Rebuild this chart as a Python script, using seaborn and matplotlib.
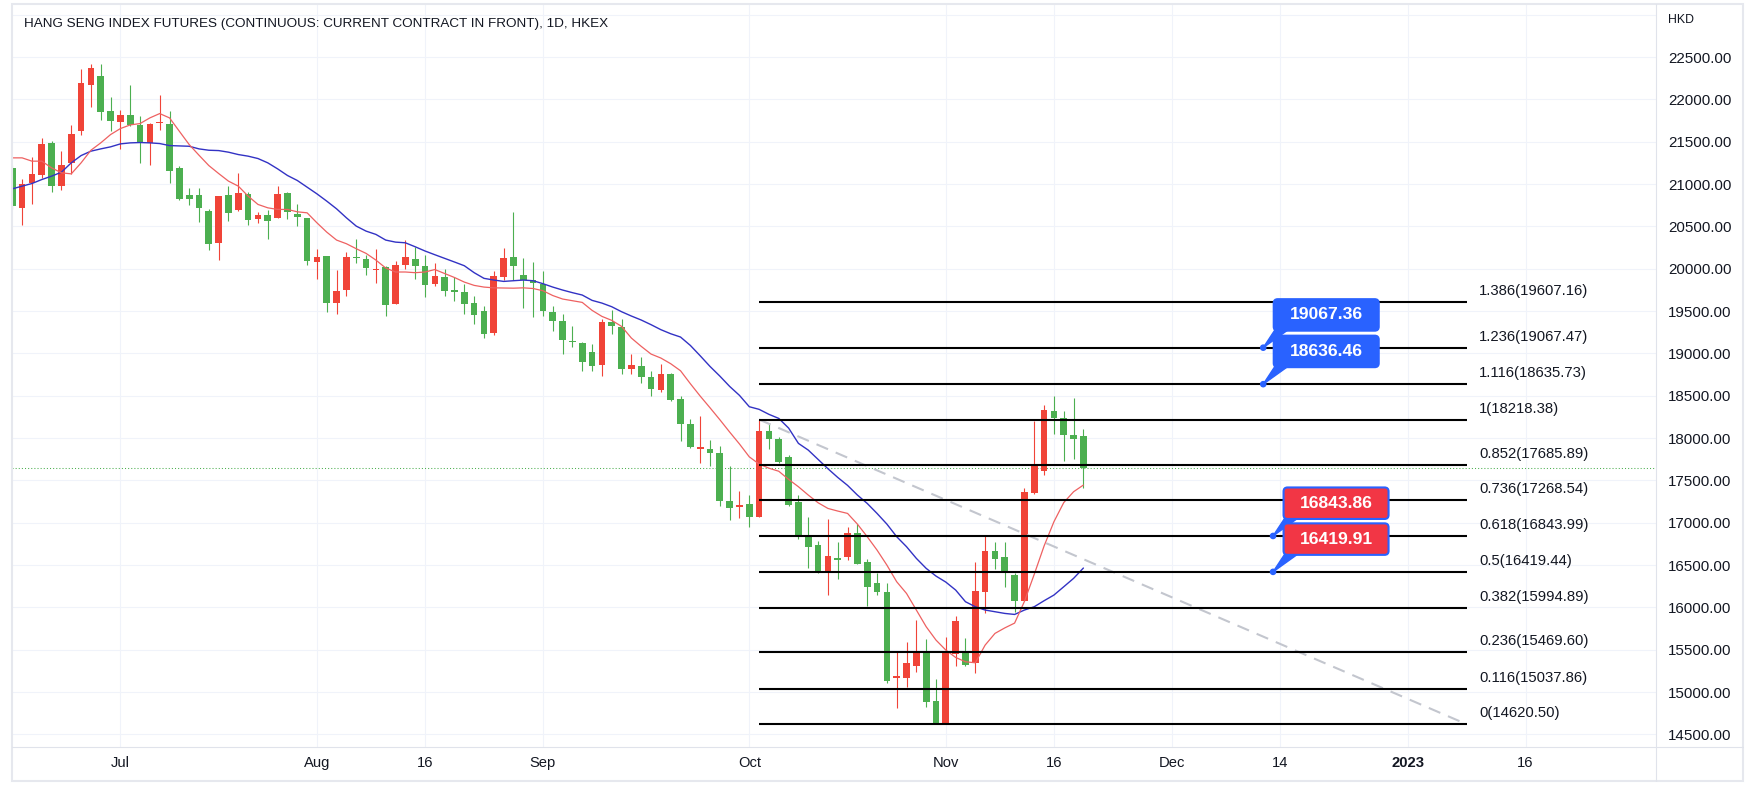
import matplotlib
matplotlib.use("Agg")
import matplotlib.pyplot as plt
from matplotlib.patches import FancyBboxPatch, Polygon, Circle, Rectangle
from matplotlib.lines import Line2D
from matplotlib.transforms import IdentityTransform
import numpy as np
import pandas as pd
import seaborn as sns

# Hang Seng futures, daily bars 16 Jun 2022 - 21 Nov 2022
opens = [21191, 20715, 21014, 21101, 21486, 20975, 21250, 21623, 22166, 22280,
         21867, 21730, 21816, 21698, 21486, 21722, 21714, 21187, 20873, 20865,
         20684, 20307, 20865, 20692, 20884, 20590, 20629, 20597, 20896, 20641,
         20594, 20078, 20149, 19591, 19748, 20141, 20118, 19984, 20023, 19583,
         20039, 20118, 20035, 19823, 19898, 19752, 19728, 19598, 19504, 19240,
         19902, 20142, 19925, 19870, 19823, 19492, 19386, 19150, 19122, 19012,
         18858, 19366, 19315, 18815, 18854, 18720, 18563, 18760, 18461, 18169,
         17870, 17870, 17823, 17252, 17189, 17221, 17071, 18087, 17988, 17780,
         17248, 16835, 16736, 16421, 16579, 16590, 16874, 16539, 16283, 16181,
         15169, 15162, 15311, 15476, 14894, 14640, 15449, 15476, 15339, 16185,
         16665, 16591, 16382, 16079, 17354, 17614, 18319, 18240, 18035, 18024]
highs = [21230, 21061, 21321, 21545, 21513, 21387, 21698, 22362, 22421, 22421,
         22032, 21879, 22174, 21800, 21720, 22056, 21867, 21211, 20955, 20955,
         20700, 20860, 20975, 21132, 20900, 20668, 20692, 20975, 20900, 20766,
         20600, 20228, 20155, 19984, 20200, 20354, 20157, 20228, 20030, 20090,
         20338, 20251, 20165, 20067, 19996, 19898, 19823, 19681, 19555, 19976,
         20248, 20673, 20126, 20079, 19976, 19563, 19465, 19327, 19130, 19114,
         19409, 19516, 19409, 18992, 18957, 18787, 18874, 18765, 18492, 18225,
         18260, 17980, 17902, 17673, 17370, 17327, 18218, 18173, 18016, 17799,
         17327, 17071, 16784, 17043, 16768, 16953, 16984, 16567, 16402, 16283,
         15476, 15594, 15850, 15622, 15154, 15646, 15898, 15634, 16539, 16854,
         16776, 16768, 16402, 17406, 18201, 18390, 18496, 18319, 18469, 18102]
lows = [20700, 20515, 20770, 21073, 20904, 20935, 21124, 21584, 21910, 21753,
        21623, 21415, 21682, 21250, 21222, 21635, 21014, 20810, 20755, 20550,
        20220, 20098, 20562, 20680, 20519, 20535, 20354, 20593, 20590, 20503,
        20039, 19874, 19489, 19469, 19678, 20071, 19929, 19835, 19442, 19580,
        19992, 19874, 19661, 19791, 19673, 19614, 19461, 19350, 19177, 19213,
        19870, 19870, 19535, 19429, 19437, 19260, 18992, 19075, 18787, 18787,
        18728, 19232, 18760, 18756, 18650, 18492, 18539, 18433, 17961, 17882,
        17705, 17665, 17193, 17035, 17055, 16945, 17071, 17870, 17701, 17197,
        16803, 16461, 16402, 16146, 16331, 16559, 16508, 16020, 16146, 15102,
        14807, 15063, 15232, 14827, 14620, 14621, 15307, 15307, 15228, 15937,
        16453, 16244, 15949, 16075, 17339, 17563, 18047, 17732, 17748, 17406]
closes = [20739, 21002, 21124, 21478, 20975, 21226, 21596, 22197, 22370, 21847,
          21741, 21816, 21698, 21498, 21714, 21737, 21148, 20829, 20818, 20715,
          20291, 20853, 20660, 20896, 20574, 20629, 20558, 20884, 20668, 20613,
          20090, 20141, 19591, 19733, 20141, 20126, 20008, 20000, 19567, 20039,
          20134, 20031, 19811, 19917, 19732, 19720, 19587, 19457, 19232, 19917,
          20130, 20028, 19870, 19831, 19496, 19386, 19154, 19130, 18898, 18846,
          19370, 19319, 18815, 18862, 18717, 18579, 18760, 18445, 18169, 17894,
          17890, 17823, 17252, 17173, 17209, 17071, 18087, 17988, 17720, 17209,
          16843, 16717, 16402, 16606, 16559, 16874, 16508, 16244, 16185, 15134,
          15189, 15339, 15476, 14886, 14630, 15457, 15843, 15319, 16193, 16665,
          16571, 16409, 16079, 17358, 17693, 18331, 18232, 18035, 17988, 17650]

# moving averages as drawn (red = 10 day, blue = 20 day)
ma_fast = [21309, 21309, 21270, 21270, 21191, 21132, 21120, 21250, 21399, 21486,
           21584, 21655, 21698, 21714, 21781, 21832, 21781, 21623, 21466, 21340,
           21218, 21124, 21034, 20975, 20857, 20759, 20719, 20700, 20700, 20672,
           20660, 20542, 20432, 20338, 20295, 20236, 20181, 20102, 20008, 19961,
           19961, 19953, 19961, 19990, 19943, 19896, 19842, 19803, 19783, 19774,
           19772, 19770, 19774, 19766, 19740, 19683, 19642, 19622, 19602, 19508,
           19437, 19390, 19319, 19181, 19083, 18992, 18945, 18878, 18795, 18642,
           18496, 18358, 18217, 18071, 17930, 17778, 17693, 17644, 17608, 17512,
           17425, 17327, 17236, 17169, 17138, 17110, 16984, 16835, 16677, 16500,
           16303, 16165, 15969, 15772, 15614, 15496, 15409, 15358, 15346, 15555,
           15693, 15758, 15815, 16071, 16392, 16726, 17012, 17238, 17366, 17445]
ma_slow = [20943, 20975, 21006, 21053, 21093, 21140, 21250, 21336, 21388, 21415,
           21439, 21474, 21486, 21490, 21486, 21478, 21454, 21450, 21446, 21415,
           21399, 21395, 21376, 21348, 21329, 21301, 21250, 21179, 21101, 21042,
           20963, 20884, 20798, 20707, 20601, 20503, 20444, 20405, 20338, 20314,
           20306, 20259, 20209, 20165, 20122, 20079, 20035, 19953, 19886, 19866,
           19850, 19858, 19866, 19858, 19823, 19783, 19748, 19717, 19689, 19626,
           19594, 19551, 19492, 19441, 19394, 19339, 19280, 19232, 19193, 19094,
           18972, 18846, 18732, 18610, 18504, 18370, 18339, 18280, 18232, 18118,
           17937, 17858, 17748, 17638, 17535, 17441, 17327, 17228, 17110, 16984,
           16835, 16717, 16579, 16461, 16370, 16299, 16205, 16067, 16008, 15969,
           15949, 15929, 15917, 15969, 16008, 16079, 16146, 16244, 16343, 16465]

fib_ratios = [1.386, 1.236, 1.116, 1, 0.852, 0.736, 0.618, 0.5, 0.382, 0.236, 0.116, 0]
fib_prices = [19607.16, 19067.47, 18635.73, 18218.38, 17685.89, 17268.54,
              16843.99, 16419.44, 15994.89, 15469.60, 15037.86, 14620.50]
fib_start_bar = 76
fib_end_bar = 148

note_bars = [127.3, 127.3, 128.3, 128.3]
note_prices = [19067.36, 18636.46, 16843.86, 16419.91]
note_fills = ["#2962ff", "#2962ff", "#f23645", "#f23645"]

xtick_bars = [11, 31, 42, 54, 75, 95, 106, 118, 129, 142, 154]
xtick_labels = ["Jul", "Aug", "16", "Sep", "Oct", "Nov", "16", "Dec", "14", "2023", "16"]
ytick_values = list(range(14500, 23001, 500))

title = "HANG SENG INDEX FUTURES (CONTINUOUS: CURRENT CONTRACT IN FRONT), 1D, HKEX"

UP = "#f04438"
DOWN = "#4caf50"
BLUE = "#2962ff"
TEXT = "#131722"
GRID = "#f0f3fa"
LINE = "#e0e3eb"

sns.set_theme(style="white")
plt.rcParams["font.family"] = ["Liberation Sans", "DejaVu Sans"]

W, H = 1757, 794
# plot box in pixels (from top-left)
L, R, T, B = 12.3, 1656.3, 4.0, 747.3

df = pd.DataFrame({"open": opens, "high": highs, "low": lows, "close": closes,
                   "fast": ma_fast, "slow": ma_slow})
df["bar"] = np.arange(len(df))
colors = np.where(df["close"] >= df["open"], UP, DOWN)

fig = plt.figure(figsize=(W / 100, H / 100), dpi=100)
fig.patch.set_facecolor("white")
ax = fig.add_axes([L / W, (H - B) / H, (R - L) / W, (B - T) / H])
ax.set_facecolor("white")
ax.set_xlim(0, 167.3)
ax.set_ylim(14348, 23126)
for s in ax.spines.values():
    s.set_visible(False)

# grid and ticks
ax.set_yticks(ytick_values)
ax.set_yticklabels(["" if v == 23000 else f"{v:.2f}" for v in ytick_values])
ax.yaxis.tick_right()
ax.set_xticks(xtick_bars)
ax.set_xticklabels(xtick_labels)
ax.tick_params(axis="y", length=0, pad=8.4, labelsize=10.9, labelcolor=TEXT)
ax.tick_params(axis="x", length=0, pad=6, labelsize=10.6, labelcolor=TEXT)
for lab in ax.get_yticklabels():
    lab.set_horizontalalignment("left")
ax.get_xticklabels()[xtick_labels.index("2023")].set_fontweight("bold")
ax.grid(True, color=GRID, lw=0.8)
ax.set_axisbelow(True)

# current price line
ax.axhline(closes[-1], color=DOWN, lw=0.75, ls=(0, (1, 2)), zorder=2)

# candles
ax.vlines(df["bar"], df["low"], df["high"], colors=colors, lw=0.8, zorder=3)
body_lo = np.minimum(df["open"], df["close"])
body_h = np.maximum((df["close"] - df["open"]).abs(), 12)
ax.bar(df["bar"], body_h, bottom=body_lo, width=0.68, color=colors, lw=0, zorder=4)

# moving averages
sns.lineplot(data=df, x="bar", y="slow", ax=ax, color="#3232c4", lw=1.0,
             estimator=None, sort=False, zorder=5)
sns.lineplot(data=df, x="bar", y="fast", ax=ax, color="#ee6161", lw=0.9,
             estimator=None, sort=False, zorder=5)
ax.set_xlabel("")
ax.set_ylabel("")

# fibonacci retracement
ax.plot([fib_start_bar, fib_end_bar], [fib_prices[3], fib_prices[-1]],
        color="#c3c6ce", lw=1.5, ls=(0, (6, 4)), zorder=6)
ax.hlines(fib_prices, fib_start_bar, fib_end_bar, color="black", lw=1.5, zorder=6)
for r, p in zip(fib_ratios, fib_prices):
    ax.annotate(f"{r:g}({p:.2f})", xy=(fib_end_bar, p), xytext=(12.6, 7),
                textcoords="offset pixels", ha="left", va="baseline",
                fontsize=10.7, color=TEXT)

# price notes
ident = IdentityTransform()
for nb, npx, fill in zip(note_bars, note_prices, note_fills):
    px, py = ax.transData.transform((nb, npx))
    bx, by, bw, bh = px + 10.5, py + 17, 105, 31.5
    ax.add_patch(Polygon([(bx + 2, by + 2), (bx + 16, by + 2), (px, py)], closed=True,
                         transform=ident, fc=BLUE, ec=BLUE, lw=1, zorder=8, clip_on=False))
    ax.add_patch(FancyBboxPatch((bx, by), bw, bh, boxstyle="round,pad=0,rounding_size=4",
                                transform=ident, fc=fill, ec=BLUE, lw=1.5, zorder=9,
                                clip_on=False))
    ax.add_patch(Circle((px, py), 2.6, transform=ident, fc=BLUE, ec=BLUE, zorder=9,
                        clip_on=False))
    ax.text(bx + bw / 2, by + bh / 2, f"{npx:.2f}", transform=ident, ha="center",
            va="center", color="white", fontweight="bold", fontsize=12.6, zorder=10)

# frame, separators and captions
fig.add_artist(Rectangle((L, H - 781), 1742.7 - L, 781 - T, transform=ident,
                         fill=False, ec="#e6e8ee", lw=1.5))
fig.add_artist(Line2D([R, R], [H - 781, H - T], transform=ident, color=LINE, lw=0.8))
fig.add_artist(Line2D([L, 1742.7], [H - B, H - B], transform=ident, color=LINE, lw=0.8))
fig.text(24 / W, 1 - 24 / H, title, ha="left", va="center", fontsize=9.7, color=TEXT)
fig.text(1668 / W, 1 - 20 / H, "HKD", ha="left", va="center", fontsize=8.9, color=TEXT)

fig.savefig("out.png", dpi=100, facecolor="white")
